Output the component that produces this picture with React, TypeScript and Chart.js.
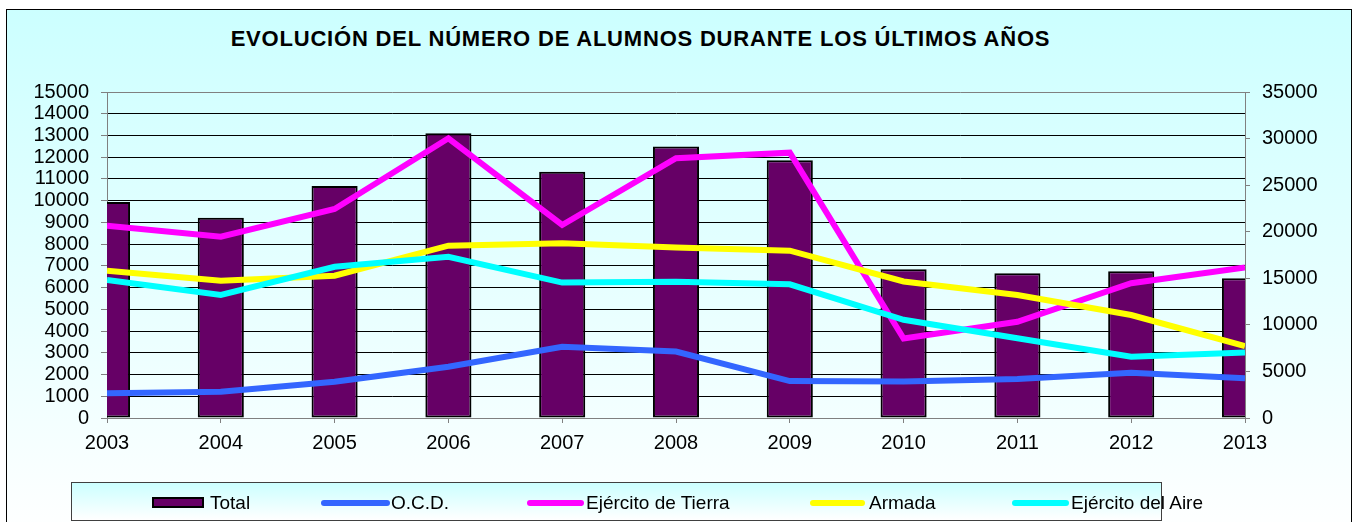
import React, { useEffect, useRef } from 'react';
import { Chart, registerables } from 'chart.js';

Chart.register(...registerables);

const years = ['2003', '2004', '2005', '2006', '2007', '2008', '2009', '2010', '2011', '2012', '2013'];
const total = [23190, 21500, 24900, 30560, 26440, 29150, 27670, 15980, 15550, 15760, 15000];
const ocd = [1140, 1210, 1670, 2360, 3280, 3060, 1700, 1680, 1790, 2080, 1830];
const tierra = [8850, 8340, 9620, 12870, 8880, 11950, 12210, 3660, 4430, 6200, 6930];
const armada = [6780, 6320, 6550, 7930, 8040, 7850, 7700, 6280, 5660, 4740, 3310];
const aire = [6350, 5660, 6960, 7420, 6230, 6270, 6150, 4520, 3670, 2820, 3010];

const leftMin = 0;
const leftMax = 15000;
const leftStep = 1000;
const rightMin = 0;
const rightMax = 35000;
const rightStep = 5000;

const title = 'EVOLUCIÓN DEL NÚMERO DE ALUMNOS DURANTE LOS ÚLTIMOS AÑOS';

const FONT = "'Liberation Sans', Arial, Helvetica, sans-serif";

const seriesColors = {
  total: '#660066',
  ocd: '#3366FF',
  tierra: '#FF00FF',
  armada: '#FFFF00',
  aire: '#00FFFF',
};

const legendItems = [
  { label: 'Total', kind: 'bar', color: seriesColors.total, sx: 152, sw: 52, tx: 210 },
  { label: 'O.C.D.', kind: 'line', color: seriesColors.ocd, sx: 321, sw: 69, tx: 391 },
  { label: 'Ejército de Tierra', kind: 'line', color: seriesColors.tierra, sx: 527, sw: 57, tx: 586 },
  { label: 'Armada', kind: 'line', color: seriesColors.armada, sx: 810, sw: 55, tx: 869 },
  { label: 'Ejército del Aire', kind: 'line', color: seriesColors.aire, sx: 1012, sw: 57, tx: 1071 },
];

export default function App() {
  const ref = useRef<HTMLCanvasElement>(null);

  useEffect(() => {
    const lineDs = (label: string, data: number[], color: string, order: number) => ({
      type: 'line' as const,
      label,
      data,
      yAxisID: 'y',
      borderColor: color,
      backgroundColor: color,
      borderWidth: 6,
      pointRadius: 0,
      pointHoverRadius: 0,
      tension: 0,
      fill: false,
      order,
      clip: 0,
    });

    const chart = new Chart(ref.current as HTMLCanvasElement, {
      type: 'bar',
      data: {
        labels: years,
        datasets: [
          {
            type: 'bar',
            label: 'Total',
            data: total,
            yAxisID: 'y1',
            backgroundColor: seriesColors.total,
            borderColor: '#000000',
            borderWidth: 2,
            borderSkipped: false,
            barPercentage: 0.405,
            categoryPercentage: 1,
            order: 10,
            clip: 0,
          } as any,
          lineDs('O.C.D.', ocd, seriesColors.ocd, 4),
          lineDs('Ejército de Tierra', tierra, seriesColors.tierra, 3),
          lineDs('Armada', armada, seriesColors.armada, 2),
          lineDs('Ejército del Aire', aire, seriesColors.aire, 1),
        ],
      },
      options: {
        responsive: false,
        maintainAspectRatio: false,
        animation: false,
        devicePixelRatio: 1,
        layout: { padding: { top: 92, left: 0, right: 0, bottom: 0 } },
        plugins: {
          legend: { display: false },
          title: { display: false },
          tooltip: { enabled: false },
        },
        scales: {
          x: {
            type: 'category',
            offset: false,
            grid: {
              offset: false,
              drawOnChartArea: false,
              drawTicks: true,
              tickLength: 5,
              tickColor: '#808080',
            },
            border: { display: true, color: '#808080', width: 1 },
            ticks: {
              color: '#000000',
              font: { family: FONT, size: 20 },
              padding: 8,
              maxRotation: 0,
              minRotation: 0,
              autoSkip: false,
            },
            afterFit: (s: any) => {
              s.height = 104;
            },
          },
          y: {
            type: 'linear',
            position: 'left',
            min: leftMin,
            max: leftMax,
            ticks: {
              stepSize: leftStep,
              autoSkip: false,
              color: '#000000',
              font: { family: FONT, size: 20 },
              padding: 12,
              callback: (v: any) => String(v),
            },
            grid: {
              color: (ctx: any) =>
                ctx.tick && (ctx.tick.value === leftMax || ctx.tick.value === leftMin) ? '#808080' : '#000000',
              lineWidth: 1,
              drawTicks: true,
              tickLength: 6,
              tickColor: '#808080',
            },
            border: { display: true, color: '#808080', width: 1 },
            afterFit: (s: any) => {
              s.width = 107;
            },
          },
          y1: {
            type: 'linear',
            position: 'right',
            min: rightMin,
            max: rightMax,
            ticks: {
              stepSize: rightStep,
              autoSkip: false,
              color: '#000000',
              font: { family: FONT, size: 20 },
              padding: 12,
              callback: (v: any) => String(v),
            },
            grid: {
              drawOnChartArea: false,
              drawTicks: true,
              tickLength: 5,
              tickColor: '#808080',
            },
            border: { display: true, color: '#808080', width: 1 },
            afterFit: (s: any) => {
              s.width = 110;
            },
          },
        },
      } as any,
    });
    return () => chart.destroy();
  }, []);

  return (
    <div
      style={{
        position: 'absolute',
        left: 0,
        top: 0,
        width: 1355,
        height: 522,
        overflow: 'hidden',
        fontFamily: FONT,
      }}
    >
      <div
        style={{
          position: 'absolute',
          left: 6,
          top: 9,
          width: 1346,
          height: 530,
          boxSizing: 'border-box',
          border: '1px solid #000000',
          background: 'linear-gradient(to bottom, #CCFFFF 0%, #FFFFFF 100%)',
        }}
      />
      <div
        style={{
          position: 'absolute',
          left: 0,
          top: 28,
          width: 1281,
          textAlign: 'center',
          fontWeight: 'bold',
          fontSize: 22,
          lineHeight: '22px',
          letterSpacing: '0.8px',
          color: '#000000',
          whiteSpace: 'nowrap',
        }}
      >
        {title}
      </div>
      <canvas
        ref={ref}
        width={1355}
        height={522}
        style={{ position: 'absolute', left: 0, top: 0, width: 1355, height: 522 }}
      />
      <div
        style={{
          position: 'absolute',
          left: 71,
          top: 482,
          width: 1091,
          height: 39,
          boxSizing: 'border-box',
          border: '1px solid #404040',
          background: 'linear-gradient(to bottom, #CCFFFF 0%, #FFFFFF 100%)',
        }}
      />
      {legendItems.map((it) => (
        <React.Fragment key={it.label}>
          {it.kind === 'bar' ? (
            <div
              style={{
                position: 'absolute',
                left: it.sx,
                top: 497,
                width: it.sw,
                height: 11,
                boxSizing: 'border-box',
                border: '2px solid #000000',
                background: it.color,
              }}
            />
          ) : (
            <div
              style={{
                position: 'absolute',
                left: it.sx,
                top: 500,
                width: it.sw,
                height: 6,
                borderRadius: 3,
                background: it.color,
              }}
            />
          )}
          <div
            style={{
              position: 'absolute',
              left: it.tx,
              top: 493,
              fontSize: 19,
              lineHeight: '19px',
              color: '#000000',
              whiteSpace: 'nowrap',
            }}
          >
            {it.label}
          </div>
        </React.Fragment>
      ))}
    </div>
  );
}
